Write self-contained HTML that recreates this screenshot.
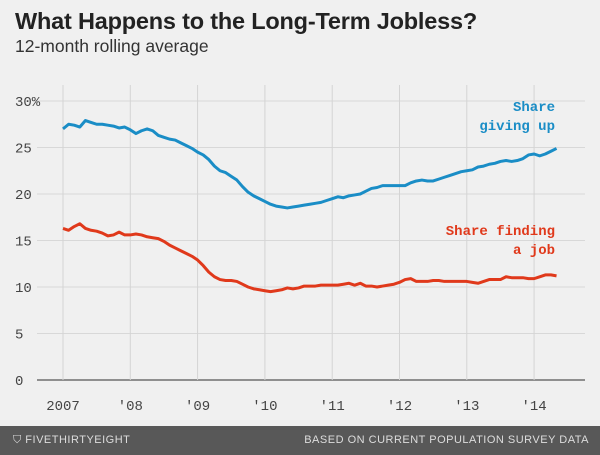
<!DOCTYPE html>
<html><head><meta charset="utf-8"><style>
body{margin:0;width:600px;height:455px;background:#f0f0f0;overflow:hidden;font-family:"Liberation Sans",sans-serif}
#title{position:absolute;left:15px;top:8px;font-size:23.5px;font-weight:bold;color:#222;letter-spacing:-0.2px}
#sub{position:absolute;left:15px;top:36px;font-size:17.5px;color:#333}
#footer{position:absolute;left:0;top:426px;width:600px;height:29px;background:#585858;color:#ddd;font-size:11px;font-family:"Liberation Sans",sans-serif;letter-spacing:0.5px}
</style></head><body>
<div id="title">What Happens to the Long-Term Jobless?</div>
<div id="sub">12-month rolling average</div>
<svg id="chart" width="600" height="426" style="position:absolute;left:0;top:0"></svg>
<div id="footer">
<span style="position:absolute;left:13px;top:8px">⛉ FIVETHIRTYEIGHT</span>
<span style="position:absolute;right:11px;top:8px">BASED ON CURRENT POPULATION SURVEY DATA</span>
</div>
<script>
const years=["2007","'08","'09","'10","'11","'12","'13","'14"];
const yTicks=[0,5,10,15,20,25,30];
const givingUp=[27.0,27.5,27.4,27.2,27.9,27.7,27.5,27.5,27.4,27.3,27.1,27.2,
26.9,26.5,26.8,27.0,26.8,26.3,26.1,25.9,25.8,25.5,25.2,24.9,
24.5,24.2,23.7,23.0,22.5,22.3,21.9,21.5,20.8,20.2,19.8,19.5,
19.2,18.9,18.7,18.6,18.5,18.6,18.7,18.8,18.9,19.0,19.1,19.3,
19.5,19.7,19.6,19.8,19.9,20.0,20.3,20.6,20.7,20.9,20.9,20.9,
20.9,20.9,21.2,21.4,21.5,21.4,21.4,21.6,21.8,22.0,22.2,22.4,
22.5,22.6,22.9,23.0,23.2,23.3,23.5,23.6,23.5,23.6,23.8,24.2,
24.3,24.1,24.3,24.6,24.9];
const findingJob=[16.3,16.1,16.5,16.8,16.3,16.1,16.0,15.8,15.5,15.6,15.9,15.6,
15.6,15.7,15.6,15.4,15.3,15.2,14.9,14.5,14.2,13.9,13.6,13.3,
12.9,12.3,11.6,11.1,10.8,10.7,10.7,10.6,10.3,10.0,9.8,9.7,
9.6,9.5,9.6,9.7,9.9,9.8,9.9,10.1,10.1,10.1,10.2,10.2,
10.2,10.2,10.3,10.4,10.2,10.4,10.1,10.1,10.0,10.1,10.2,10.3,
10.5,10.8,10.9,10.6,10.6,10.6,10.7,10.7,10.6,10.6,10.6,10.6,
10.6,10.5,10.4,10.6,10.8,10.8,10.8,11.1,11.0,11.0,11.0,10.9,
10.9,11.1,11.3,11.3,11.2];
const NS="http://www.w3.org/2000/svg";
const svg=document.getElementById('chart');
const x0=63,pxYear=67.3,y0=380,pxUnit=9.3;
const X=m=>x0+m*pxYear/12;
const Y=v=>y0-v*pxUnit;
function mk(t,a,p){const e=document.createElementNS(NS,t);for(const k in a)e.setAttribute(k,a[k]);(p||svg).appendChild(e);return e;}
yTicks.forEach(v=>{
  const l=mk('line',{x1:37,x2:585,y1:Y(v),y2:Y(v),stroke:v===0?'#555':'#d8d8d8','stroke-width':v===0?1.3:1});
  
  
  const t=mk('text',{x:15,y:Y(v)+5,'font-size':14,fill:'#444','font-family':'Liberation Mono, monospace'});
  t.textContent=v===30?'30%':String(v);
  
  
});
years.forEach((s,i)=>{
  const x=X(i*12);
  const l=mk('line',{x1:x,x2:x,y1:85,y2:380,stroke:'#d4d4d4','stroke-width':1});
  
  
  const t=mk('text',{x:x,y:410,'font-size':14,fill:'#444','text-anchor':'middle','font-family':'Liberation Mono, monospace'});
  t.textContent=s;
  
  
});
function line(d,c,n){
  const p=mk('polyline',{points:d.map((v,i)=>X(i)+','+Y(v)).join(' '),fill:'none',stroke:c,'stroke-width':3,'stroke-linejoin':'round'});
  
  
}
line(givingUp,'#1a8dc6','series-giving-up');
line(findingJob,'#e0391b','series-finding-job');
function lab(lines,y,c,n){
  const t=mk('text',{x:555,y:y,'font-size':14,'font-weight':'bold',fill:c,'text-anchor':'end','font-family':'Liberation Mono, monospace'});
  
  
  lines.forEach((s,i)=>{const ts=mk('tspan',{x:555,dy:i?19:0},t);ts.textContent=s;});
}
lab(['Share','giving up'],111,'#1a8dc6','label-giving-up');
lab(['Share finding','a job'],235,'#e0391b','label-finding-job');
</script>
</body></html>
